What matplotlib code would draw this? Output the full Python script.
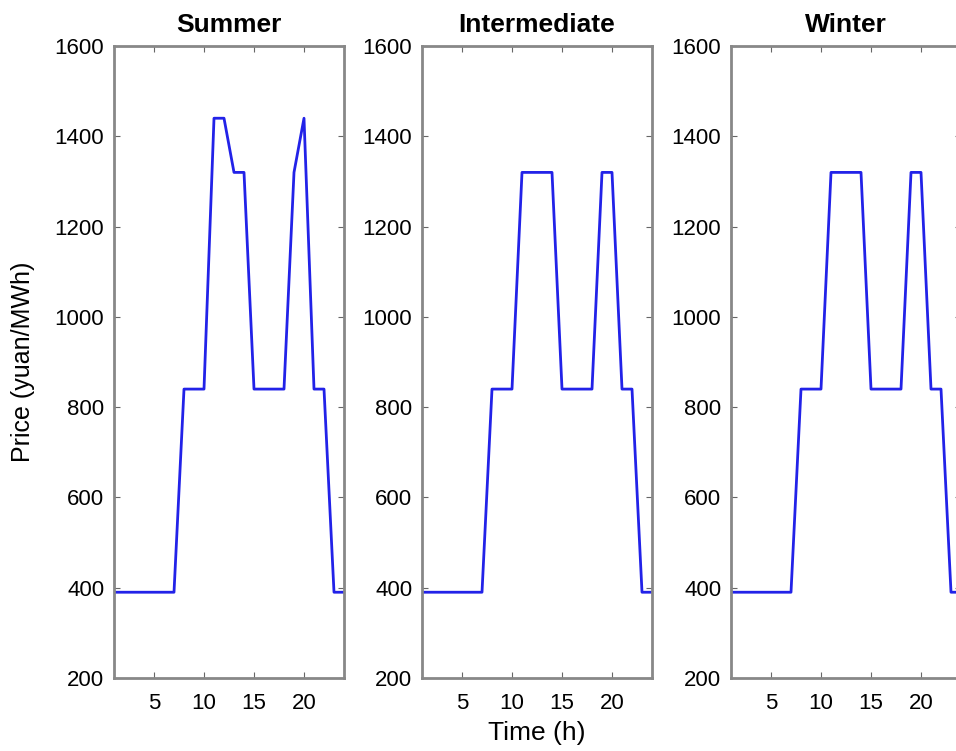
import matplotlib
matplotlib.use("Agg")
from matplotlib import pyplot as plt

hours = list(range(1, 25))
summer = [390, 390, 390, 390, 390, 390, 390, 840, 840, 840, 1440, 1440,
          1320, 1320, 840, 840, 840, 840, 1320, 1440, 840, 840, 390, 390]
intermediate = [390, 390, 390, 390, 390, 390, 390, 840, 840, 840, 1320, 1320,
                1320, 1320, 840, 840, 840, 840, 1320, 1320, 840, 840, 390, 390]
winter = [390, 390, 390, 390, 390, 390, 390, 840, 840, 840, 1320, 1320,
          1320, 1320, 840, 840, 840, 840, 1320, 1320, 840, 840, 390, 390]
titles = ["Summer", "Intermediate", "Winter"]
yticks = [200, 400, 600, 800, 1000, 1200, 1400, 1600]
xticks = [5, 10, 15, 20]

plt.rcParams['font.family'] = ['Liberation Sans', 'DejaVu Sans']

fig = plt.figure(figsize=(9.56, 7.51), dpi=100)
lefts = [114, 422, 731]
series = [summer, intermediate, winter]

for i in range(3):
    ax = fig.add_axes([lefts[i] / 956, 1 - 678 / 751, 230 / 956, 632 / 751])
    ax.plot(hours, series[i], color="#2222e8", linewidth=2)
    ax.set_xlim(1, 24)
    ax.set_ylim(200, 1600)
    ax.set_xticks(xticks)
    ax.set_yticks(yticks)
    ax.tick_params(direction="in", top=True, right=True, length=4,
                   color="#666666", labelsize=16)
    ax.tick_params(axis="y", pad=7)
    ax.tick_params(axis="x", pad=11)
    for s in ax.spines.values():
        s.set_color("#888888")
        s.set_linewidth(2)
    ax.set_title(titles[i], fontsize=19, fontweight="bold", pad=10)
    if i == 0:
        ax.set_ylabel("Price (yuan/MWh)", fontsize=18)
        ax.yaxis.set_label_coords(-0.343, 0.5)
    if i == 1:
        ax.set_xlabel("Time (h)", fontsize=19)
        ax.xaxis.set_label_coords(0.5, -0.068)

fig.savefig("out.png", dpi=100)
